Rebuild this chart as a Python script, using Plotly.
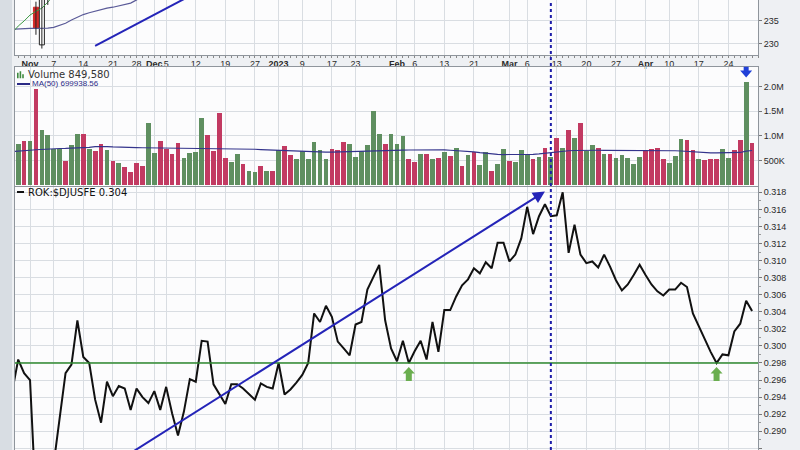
import pandas as pd
import plotly.graph_objects as go

# ---------------- data ----------------
HOLIDAYS = ["2022-11-24", "2022-12-26", "2023-01-02", "2023-01-16", "2023-02-20", "2023-04-07"]
dates = [d.strftime("%Y-%m-%d") for d in pd.bdate_range("2022-10-27", "2023-04-28")
         if d.strftime("%Y-%m-%d") not in HOLIDAYS]
pos = {d: i for i, d in enumerate(dates)}
xi = list(range(len(dates)))

tick_dates = ["2022-11-01", "2022-11-07", "2022-11-14", "2022-11-21", "2022-11-28",
              "2022-12-01", "2022-12-05", "2022-12-12", "2022-12-19", "2022-12-27",
              "2023-01-03", "2023-01-09", "2023-01-17", "2023-01-23",
              "2023-02-01", "2023-02-06", "2023-02-13", "2023-02-21",
              "2023-03-01", "2023-03-06", "2023-03-13", "2023-03-20", "2023-03-27",
              "2023-04-03", "2023-04-10", "2023-04-17", "2023-04-24"]
tick_text = ["<b>Nov</b>", "7", "14", "21", "28",
             "<b>Dec</b>", "5", "12", "19", "27",
             "<b>2023</b>", "9", "17", "23",
             "<b>Feb</b>", "6", "13", "21",
             "<b>Mar</b>", "6", "13", "20", "27",
             "<b>Apr</b>", "10", "17", "24"]

# volume in thousands (first date is off-chart)
volume_k = [None,
    841, 902, 902, 1950, 1110, 1010, 739, 739, 480, 806,
    1030, 1040, 739, 683, 826, 704, 480, 445, 364, 262,
    445, 378, 1260, 650, 888, 739, 622, 854, 548, 650,
    677, 1360, 1010, 690, 1470, 555, 466, 622, 418, 282,
    262, 378, 282, 282, 718, 786, 602, 534, 690, 534,
    874, 718, 520, 739, 718, 874, 840, 568, 690, 806,
    1500, 1030, 841, 1040, 826, 990, 520, 466, 622, 636,
    520, 548, 663, 588, 752, 391, 609, 677, 405, 677,
    282, 418, 739, 480, 459, 704, 609, 534, 568, 752,
    560, 963, 759, 1110, 963, 1260, 690, 806, 752, 622,
    622, 548, 602, 555, 418, 568, 718, 739, 759, 534,
    452, 588, 942, 908, 704, 534, 500, 534, 520, 739,
    540, 718, 922, 2080, 850]
volume_dir = [None,
    "u", "d", "u", "d", "u", "u", "u", "u", "d", "u",
    "u", "d", "u", "d", "d", "u", "d", "u", "d", "d",
    "d", "d", "u", "u", "d", "d", "d", "d", "u", "u",
    "u", "u", "d", "d", "d", "d", "u", "u", "d", "u",
    "u", "d", "u", "d", "u", "d", "d", "u", "u", "u",
    "u", "u", "u", "d", "d", "d", "u", "u", "u", "u",
    "u", "u", "d", "u", "u", "u", "d", "d", "u", "d",
    "u", "d", "u", "d", "u", "d", "u", "d", "u", "u",
    "d", "u", "u", "d", "u", "u", "u", "d", "u", "d",
    "u", "d", "u", "d", "u", "d", "u", "u", "d", "u",
    "d", "u", "u", "u", "u", "u", "d", "d", "d", "d",
    "u", "u", "u", "d", "d", "u", "d", "d", "d", "u",
    "u", "d", "d", "u", "d"]
vol_ma50_k = [680,
    684, 695, 705, 715, 725, 735, 740, 740, 742, 745,
    748, 755, 765, 778, 786, 780, 772, 765, 760, 758,
    758, 756, 755, 752, 750, 748, 745, 742, 740, 740,
    740, 740, 742, 742, 740, 738, 738, 736, 735, 732,
    725, 718, 712, 706, 702, 700, 698, 690, 682, 675,
    672, 670, 668, 668, 670, 672, 675, 680, 686, 690,
    692, 695, 698, 700, 704, 706, 710, 712, 715, 718,
    720, 718, 712, 705, 698, 692, 682, 670, 655, 640,
    630, 622, 618, 616, 616, 616, 618, 622, 630, 645,
    660, 672, 685, 695, 700, 704, 706, 706, 705, 704,
    704, 704, 704, 704, 704, 705, 706, 706, 705, 704,
    700, 695, 690, 680, 668, 655, 650, 650, 650, 650,
    650, 652, 660, 688, 700]

ratio = [0.2947,
    0.2984, 0.2968, 0.2960, 0.2815, 0.2835, 0.2830, 0.2862, 0.2915, 0.2968, 0.2978,
    0.3030, 0.2987, 0.2980, 0.2937, 0.2910, 0.2958, 0.2941, 0.2953, 0.2950, 0.2925,
    0.2950, 0.2940, 0.2933, 0.2947, 0.2925, 0.2952, 0.2921, 0.2895, 0.2923, 0.2961,
    0.2958, 0.3006, 0.3005, 0.2955, 0.2943, 0.2932, 0.2955, 0.2955, 0.2950, 0.2944,
    0.2937, 0.2956, 0.2952, 0.2950, 0.2980, 0.2943, 0.2949, 0.2957, 0.2966, 0.2980,
    0.3038, 0.3028, 0.3047, 0.3034, 0.3005, 0.2997, 0.2989, 0.3025, 0.3028, 0.3066,
    0.3080, 0.3095, 0.3030, 0.2997, 0.2982, 0.3006, 0.2980, 0.2994, 0.3006, 0.2984,
    0.3028, 0.2993, 0.3042, 0.3042, 0.3058, 0.3071, 0.3078, 0.3091, 0.3085, 0.3098,
    0.3091, 0.3121, 0.3121, 0.3099, 0.3107, 0.3126, 0.3163, 0.3131, 0.3152, 0.3166,
    0.3152, 0.3153, 0.3180, 0.3109, 0.3142, 0.3107, 0.3097, 0.3099, 0.3092, 0.3107,
    0.3093, 0.3077, 0.3065, 0.3072, 0.3083, 0.3095, 0.3083, 0.3072, 0.3064, 0.3059,
    0.3066, 0.3066, 0.3074, 0.3069, 0.3038, 0.3023, 0.3006, 0.2993, 0.2980, 0.2990,
    0.2989, 0.3017, 0.3026, 0.3053, 0.3041]

candle_dates = ["2022-11-02", "2022-11-03", "2022-11-04"]
candle_open = [238.0, 229.8, 243.0]
candle_high = [239.2, 244.0, 246.0]
candle_low = [232.0, 229.0, 238.5]
candle_close = [233.4, 243.0, 245.0]

ma_green = [232.4, 233.9, 235.0, 236.3, 237.1, 237.8, 239.1, 240.6, 242.0]
ma_purple = [233.2, 233.3, 233.35, 233.4, 233.4, 233.4, 233.45, 233.6, 234.0, 234.5,
             235.2, 235.8, 236.4, 236.8, 237.15, 237.5, 237.8, 238.0, 238.3, 238.6,
             238.9, 239.6, 240.3, 241.0]

price_trend_dates = ["2022-11-16", "2022-12-12"]
price_trend_vals = [229.57, 241.13]
ratio_trend_dates = ["2022-11-23", "2023-03-09"]
ratio_trend_vals = [0.2870, 0.3181]
support_level = 0.298
signal_date = "2023-03-10"
bounce_dates = ["2023-02-03", "2023-04-20"]
spike_date = "2023-04-27"

price_ticks = [230, 235, 240]
vol_ticks = [500000, 1000000, 1500000, 2000000]
vol_tick_text = ["500K", "1.0M", "1.5M", "2.0M"]
ratio_ticks = [0.288, 0.290, 0.292, 0.294, 0.296, 0.298, 0.300, 0.302, 0.304,
               0.306, 0.308, 0.310, 0.312, 0.314, 0.316, 0.318]

# ---------------- style ----------------
UP = "#5f8f60"
DOWN = "#c23a62"
GRID = "#d9dde2"
LINE = "#8f959c"
TRENDBLUE = "#2424b8"
TICKFONT = dict(family="Liberation Sans, Arial, sans-serif", size=9, color="#2a2a2a")

fig = go.Figure()

# price panel
fig.add_trace(go.Scatter(x=xi[:len(ma_purple)], y=ma_purple, mode="lines",
                         line=dict(color="#5a5a98", width=1.2), xaxis="x", yaxis="y"))
fig.add_trace(go.Scatter(x=xi[:len(ma_green)], y=ma_green, mode="lines",
                         line=dict(color="#3f9a45", width=1), xaxis="x", yaxis="y"))
# candles: wicks + bodies
cx = [pos[d] for d in candle_dates]
is_up = [c >= o for o, c in zip(candle_open, candle_close)]
wick_x, wick_y = [], []
for x, lo, hi in zip(cx, candle_low, candle_high):
    wick_x += [x, x, None]
    wick_y += [lo, hi, None]
fig.add_trace(go.Scatter(x=wick_x, y=wick_y, mode="lines",
                         line=dict(color="#222222", width=1), xaxis="x", yaxis="y"))
fig.add_trace(go.Bar(
    x=cx, base=[min(o, c) for o, c in zip(candle_open, candle_close)],
    y=[abs(c - o) for o, c in zip(candle_open, candle_close)], width=0.85,
    marker=dict(color=["white" if u else "#d42828" for u in is_up],
                line=dict(color=["#222222" if u else "#d42828" for u in is_up], width=1)),
    xaxis="x", yaxis="y"))
fig.add_trace(go.Scatter(x=[pos[d] for d in price_trend_dates], y=price_trend_vals,
                         mode="lines", line=dict(color=TRENDBLUE, width=2),
                         xaxis="x", yaxis="y"))

# volume panel
fig.add_trace(go.Bar(
    x=xi, y=[None if v is None else v * 1000 for v in volume_k],
    marker=dict(color=[UP if d == "u" else DOWN for d in volume_dir], line=dict(width=0)),
    width=0.8, xaxis="x2", yaxis="y2"))
fig.add_trace(go.Scatter(x=xi, y=[v * 1000 for v in vol_ma50_k], mode="lines",
                         line=dict(color="#34348c", width=1.2), xaxis="x2", yaxis="y2"))

# ratio panel
fig.add_trace(go.Scatter(x=xi, y=ratio, mode="lines",
                         line=dict(color="#111111", width=2), xaxis="x3", yaxis="y3"))

x_range = [0.46, 126.0]
tickvals = [pos[d] for d in tick_dates]

common_x = dict(range=x_range, tickmode="array", tickvals=tickvals, ticktext=tick_text,
                showgrid=True, gridcolor=GRID, gridwidth=1, zeroline=False,
                tickangle=0, fixedrange=True)
common_y = dict(side="right", showgrid=True, gridcolor=GRID, zeroline=False,
                tickfont=TICKFONT, ticks="outside", ticklen=3, tickcolor="#777",
                showline=True, mirror=True, linecolor=LINE, linewidth=1, fixedrange=True)

fig.update_layout(
    width=800, height=450, margin=dict(l=15, r=42, t=0, b=0),
    paper_bgcolor="#eef0f3", plot_bgcolor="#fcfcfd",
    showlegend=False, bargap=0, barmode="overlay",
    xaxis=dict(common_x, domain=[0, 1], anchor="y", showticklabels=True,
               tickfont=TICKFONT, ticks="", showline=True, linecolor=LINE,
               minor=dict(ticks="outside", ticklen=2, tickcolor="#888",
                          dtick=1, tick0=0, showgrid=False)),
    yaxis=dict(common_y, domain=[0.8778, 1.0], anchor="x", range=[227.6, 239.57],
               tickvals=price_ticks),
    xaxis2=dict(common_x, domain=[0, 1], anchor="y2", matches="x", showticklabels=False,
                ticks="", showline=True, mirror=True, linecolor=LINE),
    yaxis2=dict(common_y, domain=[0.5856, 0.8518], anchor="x2", range=[-30000, 2400000],
                tickvals=vol_ticks, ticktext=vol_tick_text),
    xaxis3=dict(common_x, domain=[0, 1], anchor="y3", matches="x", showticklabels=False,
                ticks="", showline=False),
    yaxis3=dict(common_y, domain=[0, 0.5844], anchor="x3", range=[0.2878, 0.31862],
                tickvals=ratio_ticks, tickformat=".3f",
                minor=dict(ticks="outside", ticklen=2, tickcolor="#999", dtick=0.001,
                           tick0=0.288, showgrid=False)),
)

shapes = []
# left frame strip
shapes.append(dict(type="rect", xref="paper", yref="paper", x0=-15 / 743, x1=-3 / 743,
                   y0=0, y1=1, fillcolor="#d8dde3", line=dict(width=0), layer="below"))
# support line
shapes.append(dict(type="line", xref="x3", yref="y3", x0=x_range[0], x1=x_range[1],
                   y0=support_level, y1=support_level,
                   line=dict(color="#2f8a2f", width=1.5), layer="above"))
# vertical signal line
shapes.append(dict(type="line", xref="x", yref="paper", x0=pos[signal_date],
                   x1=pos[signal_date], y0=0, y1=1,
                   line=dict(color="#1c1ca8", width=2, dash="dot"), layer="above"))
# green bounce arrows (pixel y: negative = below anchor)
for d in bounce_dates:
    shapes.append(dict(type="path", xref="x3", yref="y3", xsizemode="pixel",
                       ysizemode="pixel", xanchor=pos[d], yanchor=support_level,
                       path="M0,-4 L6,-10.5 L3,-10.5 L3,-18 L-3,-18 L-3,-10.5 L-6,-10.5 Z",
                       fillcolor="#6aae4f", line=dict(width=0)))
# blue volume arrow (pointing down at the spike bar)
spike_vol = volume_k[pos[spike_date]] * 1000
shapes.append(dict(type="path", xref="x2", yref="y2", xsizemode="pixel", ysizemode="pixel",
                   xanchor=pos[spike_date], yanchor=spike_vol,
                   path="M0,5 L6,12 L2.5,12 L2.5,19.5 L-2.5,19.5 L-2.5,12 L-6,12 Z",
                   fillcolor="#2040d8", line=dict(width=0)))
# volume legend icon and MA dash
shapes.append(dict(type="path", xref="x2 domain", yref="y2 domain", xsizemode="pixel",
                   ysizemode="pixel", xanchor=0, yanchor=1,
                   path="M2,-11.5 V-6 H3.6 V-11.5 Z M4.6,-11.5 V-4.5 H6.2 V-11.5 Z M7.2,-11.5 V-7.5 H8.8 V-11.5 Z",
                   fillcolor="#3f8a3f", line=dict(width=0)))
shapes.append(dict(type="path", xref="x2 domain", yref="y2 domain", xsizemode="pixel",
                   ysizemode="pixel", xanchor=0, yanchor=1, path="M2,-17.3 H15",
                   line=dict(color="#2a2a85", width=2)))
shapes.append(dict(type="path", xref="x3 domain", yref="y3 domain", xsizemode="pixel",
                   ysizemode="pixel", xanchor=0, yanchor=1, path="M2,-5 H9",
                   line=dict(color="#111111", width=2)))
fig.update_layout(shapes=shapes)

annotations = [
    dict(xref="x2 domain", yref="y2 domain", x=0, y=1, xanchor="left", yanchor="middle",
         xshift=11, yshift=-8.3, showarrow=False, text="Volume 849,580",
         font=dict(family="DejaVu Sans", size=10, color="#333333")),
    dict(xref="x2 domain", yref="y2 domain", x=0, y=1, xanchor="left", yanchor="middle",
         xshift=15, yshift=-17, showarrow=False, text="MA(50) 699938.56",
         font=dict(family="Liberation Sans, Arial", size=8, color="#2a2a85")),
    dict(xref="x3 domain", yref="y3 domain", x=0, y=1, xanchor="left", yanchor="middle",
         xshift=11, yshift=-5, showarrow=False, text="ROK:$DJUSFE 0.304",
         font=dict(family="DejaVu Sans", size=10, color="#111111")),
    dict(xref="x3", yref="y3", axref="x3", ayref="y3",
         x=pos[ratio_trend_dates[1]], y=ratio_trend_vals[1],
         ax=pos[ratio_trend_dates[0]], ay=ratio_trend_vals[0],
         text="", showarrow=True, arrowhead=2, arrowsize=1.2, arrowwidth=2,
         arrowcolor=TRENDBLUE, standoff=0),
]
fig.update_layout(annotations=annotations)

fig.write_html("out.html", config={"displayModeBar": False, "staticPlot": True},
               post_script="document.body.style.margin='0';")
